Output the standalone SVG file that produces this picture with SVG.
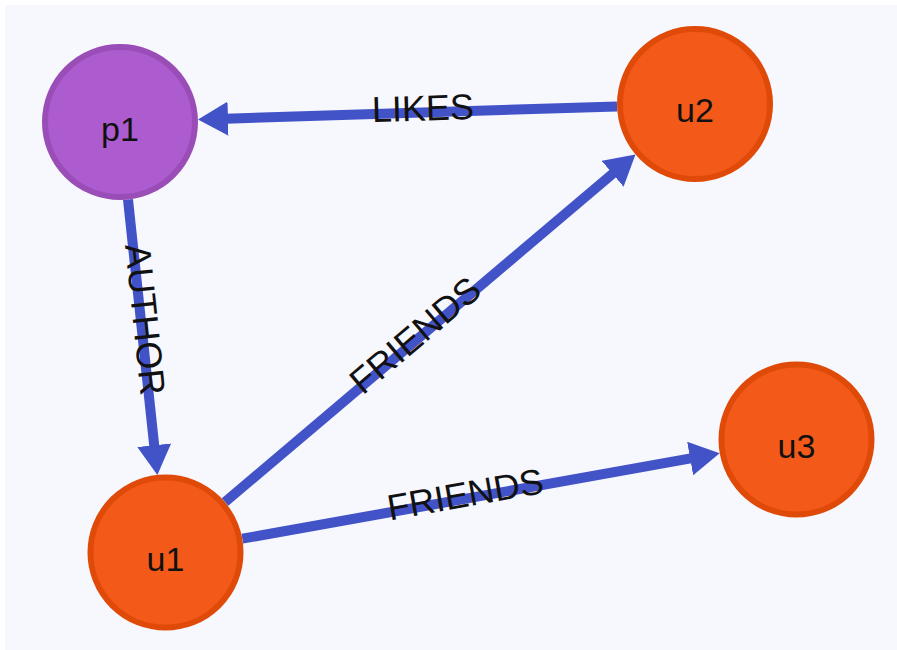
<svg xmlns="http://www.w3.org/2000/svg" width="897" height="650" viewBox="0 0 897 650">
  <defs>
    <marker id="arrow" markerUnits="userSpaceOnUse" markerWidth="32" markerHeight="34" refX="2" refY="17" orient="auto" viewBox="0 0 32 34">
      <path d="M0,0 L30,17 L0,34 z" fill="#4253C8"/>
    </marker>
    <style>
      .edge { stroke: #4253C8; stroke-width: 10; fill: none; marker-end: url(#arrow); }
      .elabel { font-family: "Liberation Sans", Arial, sans-serif; font-size: 36px; fill: #111111; text-anchor: middle; }
      .nlabel { font-family: "Liberation Sans", Arial, sans-serif; font-size: 34px; fill: #111111; text-anchor: middle; }
      .user { fill: #F35A19; stroke: #E04A08; stroke-width: 6; }
      .post { fill: #AD5CCF; stroke: #9A4DB6; stroke-width: 6; }
    </style>
  </defs>
  <rect x="0" y="0" width="897" height="650" fill="#FFFFFF"/>
  <rect x="5" y="5" width="892" height="645" fill="#F7F7FE"/>

  <g id="connectors">
    <line class="edge" x1="617" y1="106.4" x2="226" y2="118.7"/>
    <line class="edge" x1="128" y1="199.5" x2="154.4" y2="447.2"/>
    <line class="edge" x1="225" y1="502" x2="614.1" y2="172.5"/>
    <line class="edge" x1="242.3" y1="538.7" x2="692.1" y2="458.2"/>
    <text class="elabel" transform="translate(423,112.5) rotate(-1.8)" y="8">LIKES</text>
    <text class="elabel" transform="translate(140.8,320) rotate(84)" y="8">AUTHOR</text>
    <text class="elabel" transform="translate(418,338.5) rotate(-40.25)" y="8">FRIENDS</text>
    <text class="elabel" transform="translate(466,498.7) rotate(-10.1)" y="8">FRIENDS</text>
  </g>

  <g id="p1">
    <circle class="post" cx="120" cy="122" r="75"/>
    <text class="nlabel" x="120" y="141">p1</text>
  </g>
  <g id="u2">
    <circle class="user" cx="695" cy="104" r="75"/>
    <text class="nlabel" x="695" y="122">u2</text>
  </g>
  <g id="u3">
    <circle class="user" cx="796.5" cy="439.5" r="75"/>
    <text class="nlabel" x="796.5" y="458">u3</text>
  </g>
  <g id="u1">
    <circle class="user" cx="165.5" cy="552.5" r="75"/>
    <text class="nlabel" x="165.5" y="571">u1</text>
  </g>
</svg>
